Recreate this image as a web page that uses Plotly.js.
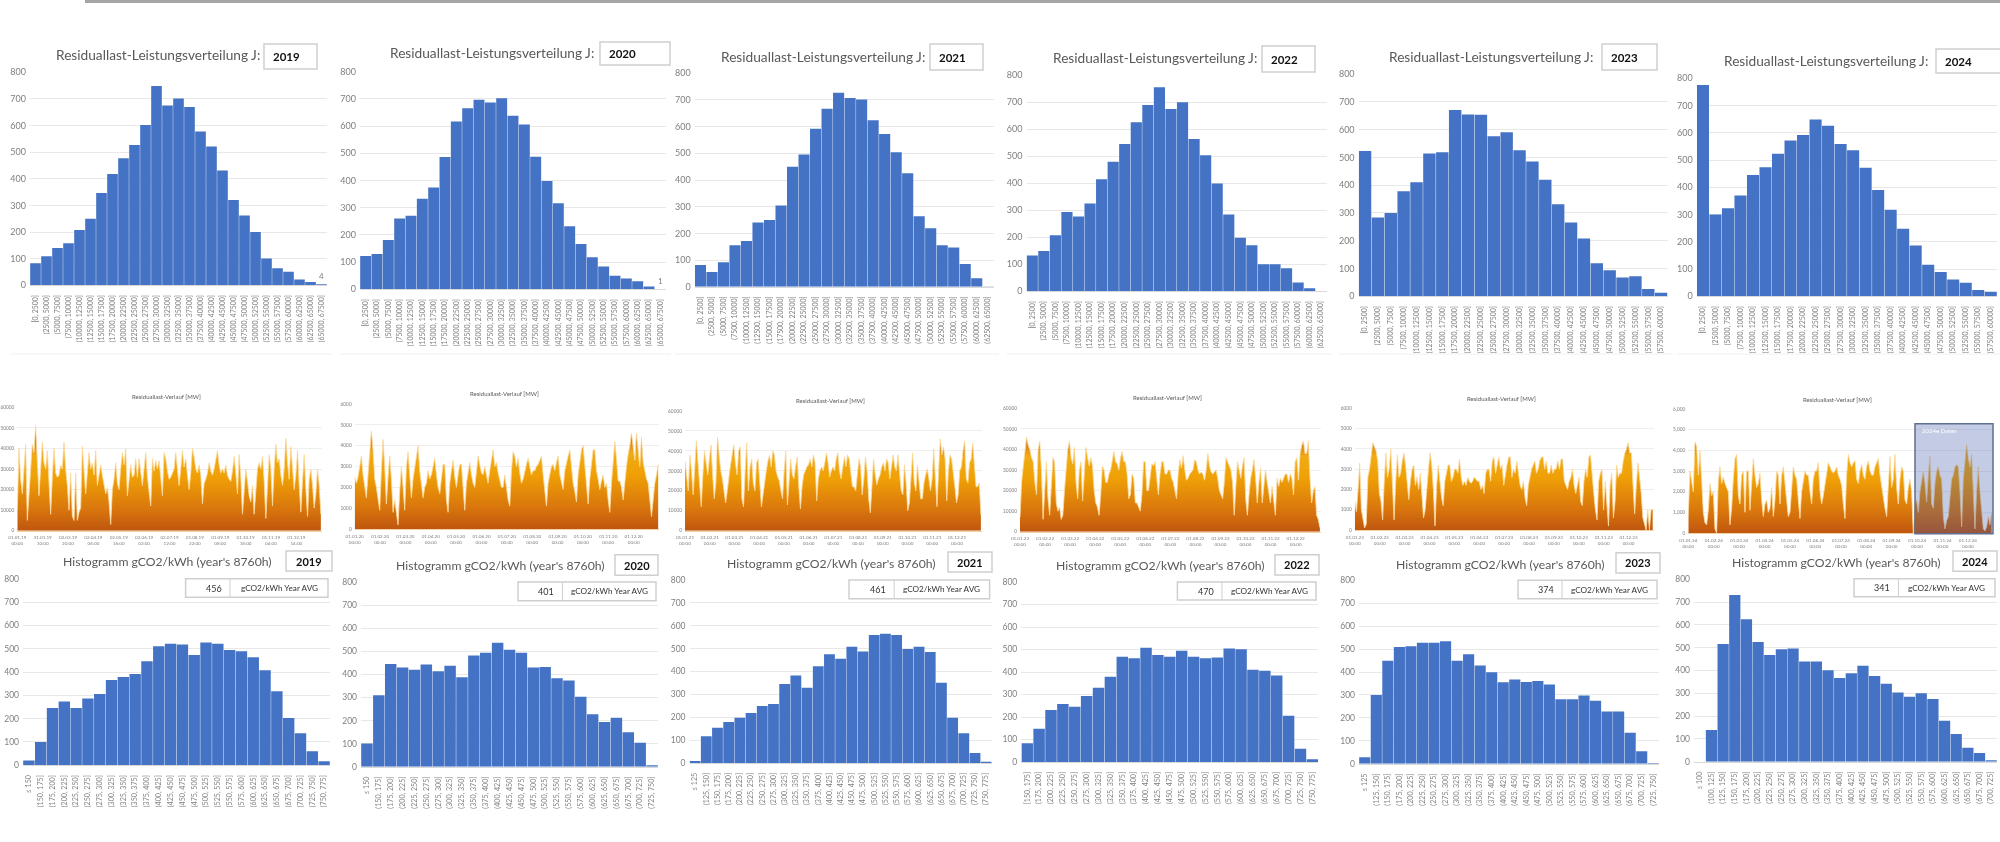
<!DOCTYPE html>
<html><head><meta charset="utf-8">
<script src="https://cdn.plot.ly/plotly-3.0.1.min.js"></script>
<style>html,body{margin:0;padding:0;background:#fff}#c{width:2000px;height:842px;filter:blur(0.45px)}</style>
</head><body><div id="c"></div>
<script>
// ---------- data ----------
const years = [2019, 2020, 2021, 2022, 2023, 2024];

const power2019 = [83,109,140,158,208,250,347,418,477,527,602,749,675,702,670,578,521,431,320,262,200,101,64,51,22,12,4];
const power2020 = [122,130,181,260,270,333,374,486,617,666,697,687,702,638,606,487,398,316,232,167,118,84,50,40,30,10,1];
const power2021 = [81,55,92,155,171,241,250,304,450,496,592,667,727,707,702,624,572,504,425,264,219,155,147,85,32,1];
const power2022 = [132,149,207,293,277,325,414,479,545,625,689,755,674,699,563,503,399,284,198,170,100,100,85,33,11,1];
const power2023 = [523,284,300,378,410,514,518,670,654,653,576,590,526,485,419,331,266,208,119,94,68,72,26,13];
const power2024 = [775,300,323,370,445,474,523,572,592,649,626,559,536,472,390,318,248,186,116,89,62,50,23,17];

const co2_2019 = [21,100,246,274,246,286,306,366,379,391,446,510,521,518,473,526,521,494,489,463,407,317,203,137,60,17];
const co2_2020 = [100,310,445,430,420,443,413,437,387,482,494,537,507,494,430,432,383,373,303,227,194,212,149,104,6];
const co2_2021 = [9,117,154,179,198,219,249,258,345,382,329,423,475,456,508,487,560,565,560,498,508,485,351,198,130,44,6];
const co2_2022 = [83,148,231,258,246,293,330,379,468,461,508,476,468,495,468,461,464,505,501,410,406,384,206,59,12];
const co2_2023 = [28,300,449,509,512,528,528,534,449,477,428,399,355,367,356,361,345,281,281,298,275,228,228,135,54,3];
const co2_2024 = [0,139,516,731,625,525,468,493,496,439,439,401,367,388,421,376,342,303,285,300,275,180,121,61,38,6];

const co2Avg = [456, 401, 461, 470, 374, 341];
const co2FirstBin = ["≤ 150","≤ 150","≤ 125","[150, 175]","≤ 125","≤ 100"];
const co2BinStart = [150,150,125,175,125,100];

// residual load course, thousand MW, every two days of the year
const load2019 = [10,40,25,18,30,42,5,17,32,42,38,51,34,17,30,43,33,30,39,24,8,26,40,28,26,27,32,30,43,30,22,10,28,7,5,28,5,9,11,41,30,18,28,38,30,33,27,39,22,28,32,27,22,18,21,14,3,20,25,33,23,20,30,38,32,40,17,26,32,26,27,35,26,35,29,22,30,38,26,19,12,35,29,34,30,34,26,17,38,35,29,25,26,28,30,38,28,22,30,39,31,35,27,20,28,40,36,30,28,32,27,13,23,25,28,33,29,27,30,34,39,32,28,30,28,32,27,25,24,29,36,28,18,37,26,8,18,30,24,17,14,22,8,22,30,33,30,36,24,6,25,37,30,12,30,42,33,35,27,22,30,45,33,25,41,30,20,27,39,22,9,24,37,20,7,25,30,22,11,18,30,22,8];
const load2020 = [25,22,25,31,35,26,20,15,26,36,47,38,24,20,14,9,28,43,30,12,25,35,24,8,14,8,2,18,30,20,9,30,37,26,15,24,30,36,40,28,22,15,20,22,28,24,26,30,34,26,20,17,25,31,31,14,8,22,28,33,25,20,26,31,31,18,9,22,28,32,26,22,20,28,35,31,27,26,30,26,22,28,34,38,30,32,27,24,20,20,26,20,14,11,28,37,35,30,34,27,22,24,28,31,34,30,26,28,28,30,31,33,35,26,18,11,22,26,30,31,28,32,35,26,22,19,28,32,35,38,28,22,18,13,26,32,38,40,30,22,12,24,30,38,38,28,24,19,23,26,20,22,14,8,22,34,42,34,23,23,20,14,24,30,36,40,46,38,33,46,36,30,44,32,28,24,22,14,6,14,22,26,31];
const load2021 = [35,28,20,38,30,18,32,45,34,22,12,28,40,34,28,36,43,28,16,24,47,38,30,26,20,14,20,28,33,38,43,34,28,40,42,16,12,30,44,20,32,36,24,20,34,36,22,12,18,25,30,35,38,32,40,38,30,27,25,20,16,30,40,13,26,36,28,26,32,37,22,11,22,28,30,32,33,36,32,38,34,15,26,30,32,30,34,39,34,27,30,32,30,36,39,30,26,32,37,32,38,36,28,22,22,20,28,36,32,18,26,37,30,16,9,26,36,28,23,26,28,32,34,30,36,34,26,32,38,32,30,38,30,20,18,33,24,10,14,30,39,24,20,33,26,16,16,24,28,31,26,20,26,41,26,12,30,46,38,42,36,15,30,38,36,27,22,14,18,30,32,40,45,26,24,34,36,44,34,22,22,24,8];
const load2022 = [7,24,32,38,46,42,40,36,34,24,18,40,44,30,6,20,34,16,8,22,36,34,14,10,12,6,8,20,30,40,44,36,33,41,24,16,30,34,15,30,41,36,32,36,32,20,14,12,8,18,32,30,24,24,28,30,34,39,34,33,30,36,39,34,34,28,16,18,28,26,14,14,12,10,18,34,34,20,20,28,33,32,34,26,18,28,34,34,28,28,30,30,26,24,20,16,28,35,31,37,30,25,26,28,29,30,35,34,30,28,29,28,25,30,38,32,29,28,29,30,26,20,18,16,24,36,34,32,30,24,8,22,34,30,26,32,36,16,8,18,26,30,35,26,14,24,31,14,22,30,24,18,14,22,14,8,26,22,26,24,26,28,28,24,28,26,18,34,36,25,38,42,44,38,38,44,26,14,20,22,8,6,2];
const load2023 = [14,9,20,33,10,5,1,3,26,30,36,43,41,39,34,18,14,5,24,38,26,30,40,22,5,24,37,26,28,34,38,32,22,15,24,30,32,22,26,20,28,15,6,10,22,30,38,32,20,2,22,32,24,16,12,24,28,32,32,24,26,30,30,28,35,26,22,24,22,26,24,23,24,26,25,24,24,20,22,18,28,30,30,24,34,36,28,32,36,30,32,22,28,32,36,36,26,30,28,34,28,22,20,24,16,12,22,26,30,32,34,28,30,34,36,36,30,34,28,28,32,28,30,30,34,30,35,35,24,22,20,24,26,30,22,18,22,26,14,12,24,30,26,36,37,26,18,10,5,24,28,30,10,24,12,2,22,28,6,14,32,26,28,28,34,38,40,43,38,38,22,8,22,33,26,18,6,3,0,10,0,10,10];
const load2024 = [9,30,25,20,44,42,28,40,26,10,5,4,11,24,18,20,2,0,25,32,24,27,24,22,20,4,12,26,36,38,18,14,28,30,10,30,30,11,24,36,28,22,24,29,16,8,14,16,10,12,22,8,16,30,28,14,28,32,24,15,8,10,24,32,28,26,16,7,20,26,30,28,28,20,14,26,30,30,34,20,14,18,24,28,34,32,30,29,30,32,28,26,23,14,7,28,38,34,32,34,35,26,24,30,33,28,26,32,35,30,28,28,32,34,36,28,22,18,12,8,24,37,22,26,38,22,14,26,32,30,16,14,22,26,20,0,14,16,10,20,25,30,24,15,28,37,14,12,24,30,32,28,26,8,2,6,8,18,26,28,32,33,32,20,3,26,36,43,36,32,38,16,2,20,32,20,10,2,1,3,8,4,10];

const loadVals = [load2019, load2020, load2021, load2022, load2023, load2024];
const powerVals = [power2019, power2020, power2021, power2022, power2023, power2024];
const co2Vals = [co2_2019, co2_2020, co2_2021, co2_2022, co2_2023, co2_2024];

const monthTicks = {
 2019:["01.01.19<br>00:00","31.01.19<br>10:00","02.03.19<br>20:00","02.04.19<br>06:00","02.05.19<br>16:00","02.06.19<br>02:00","02.07.19<br>12:00","01.08.19<br>22:00","01.09.19<br>08:00","01.10.19<br>18:00","01.11.19<br>04:00","01.12.19<br>14:00"],
 2020:["01.01.20<br>00:00","01.02.20<br>00:00","01.03.20<br>00:00","01.04.20<br>00:00","01.05.20<br>00:00","01.06.20<br>00:00","01.07.20<br>00:00","01.08.20<br>00:00","01.09.20<br>00:00","01.10.20<br>00:00","01.11.20<br>00:00","01.12.20<br>00:00"],
 2021:["01.01.21<br>00:00","01.02.21<br>00:00","01.03.21<br>00:00","01.04.21<br>00:00","01.05.21<br>00:00","01.06.21<br>00:00","01.07.21<br>00:00","01.08.21<br>00:00","01.09.21<br>00:00","01.10.21<br>00:00","01.11.21<br>00:00","01.12.21<br>00:00"],
 2022:["01.01.22<br>00:00","01.02.22<br>00:00","01.03.22<br>00:00","01.04.22<br>00:00","01.05.22<br>00:00","01.06.22<br>00:00","01.07.22<br>00:00","01.08.22<br>00:00","01.09.22<br>00:00","01.10.22<br>00:00","01.11.22<br>00:00","01.12.22<br>00:00"],
 2023:["01.01.23<br>00:00","01.02.23<br>00:00","01.03.23<br>00:00","01.04.23<br>00:00","01.05.23<br>00:00","01.06.23<br>00:00","01.07.23<br>00:00","01.08.23<br>00:00","01.09.23<br>00:00","01.10.23<br>00:00","01.11.23<br>00:00","01.12.23<br>00:00"],
 2024:["01.01.24<br>00:00","01.02.24<br>00:00","01.03.24<br>00:00","01.04.24<br>00:00","01.05.24<br>00:00","01.06.24<br>00:00","01.07.24<br>00:00","01.08.24<br>00:00","01.09.24<br>00:00","01.10.24<br>00:00","01.11.24<br>00:00","01.12.24<br>00:00"]
};
const loadTickText = [
 ["0","10000","20000","30000","40000","50000","60000"],
 ["0","1000","2000","3000","4000","5000","6000"],
 ["0","10000","20000","30000","40000","50000","60000"],
 ["0","10000","20000","30000","40000","50000","60000"],
 ["0","1000","2000","3000","4000","5000","6000"],
 ["0","1,000","2,000","3,000","4,000","5,000","6,000"]
];

// ---------- layout geometry (pixels in the 2000x842 page) ----------
const W = 2000, H = 842;
const row1 = [[30,327,72.3,285.3],[360,666,71.7,289.3],[694.7,994,73.3,286.7],[1026.5,1327,75,291.3],[1358.6,1667.6,74,296.3],[1696.7,1997,78.3,296.3]];
const row1Title = [[158,55],[491.5,53],[822.6,56.7],[1155,57.7],[1491,56],[1826,60]];
const row1Box = [[264,317,44,69],[600,670,42,65],[930,983,44,70],[1262,1315,46,72],[1602,1657,44,70],[1936,2004,49,73]];
const row2 = [[17.3,321.7,407.3,530.7],[354.7,659,404,529],[685,981.7,411,530.7],[1020,1320.7,408.3,531.7],[1354.8,1653.5,408.3,530],[1688.3,1993.3,409,533]];
const row2Title = [[166,396.7],[504,393.7],[830.7,401],[1167,397.7],[1501,398],[1837.7,399]];
const row3 = [[23,330,578.7,765.3],[361,658,582,766.7],[689.5,991.8,580,763],[1021.3,1318.3,582,762],[1359,1659,580.3,763.7],[1694,1997,579.3,761.7]];
const row3Title = [[167.6,561.7],[500.8,565.7],[831,563],[1160.5,565.7],[1500,564],[1836,562.7]];
const row3Box = [[286,332,551,571],[615,658,554.7,575.3],[948,992,552,572],[1275,1319,554.7,575],[1616,1660,552.7,573],[1953,1997,551,571.3]];
const row3Table = [[185.6,230,328,578.7,597.3],[518,562.4,656,582,600.7],[849,894.2,989.6,580,598.7],[1177.4,1222,1316,582,600],[1518,1562,1657,580.3,598.7],[1854,1898.4,1995,578.7,596.7]];

const FONT = 'Lato, "Open Sans", sans-serif';
const GREY = '#595959', TICK = '#7f7f7f', GRID = '#e8e8e8', BLUE = '#4472c4';

const px = v => v / W, py = v => 1 - v / H;
const data = [];
const layout = {
  width: W, height: H, margin: {l:0,r:0,t:0,b:0}, paper_bgcolor:'#fff', plot_bgcolor:'rgba(0,0,0,0)',
  showlegend:false, bargap:0.035, font:{family:FONT, color:GREY}, shapes:[], annotations:[]
};
let axisNo = 0;

function addAxes(g, xCfg, yCfg){
  axisNo++;
  const xn = axisNo === 1 ? 'xaxis' : 'xaxis'+axisNo, yn = axisNo === 1 ? 'yaxis' : 'yaxis'+axisNo;
  const xr = axisNo === 1 ? 'x' : 'x'+axisNo, yr = axisNo === 1 ? 'y' : 'y'+axisNo;
  layout[xn] = Object.assign({domain:[px(g[0]),px(g[1])], anchor:yr, showgrid:false, zeroline:false, showline:true, linecolor:'#d9d9d9', linewidth:1, fixedrange:true}, xCfg);
  layout[yn] = Object.assign({domain:[py(g[3]),py(g[2])], anchor:xr, showgrid:true, gridcolor:GRID, gridwidth:1, zeroline:false, showline:false, fixedrange:true}, yCfg);
  return [xr,yr];
}
function rect(x0,x1,y0,y1,line,fill,w){
  layout.shapes.push({type:'rect',xref:'paper',yref:'paper',x0:px(x0),x1:px(x1),y0:py(y1),y1:py(y0),line:{color:line,width:w===undefined?1.5:w},fillcolor:fill||'rgba(0,0,0,0)'});
}
function hline(x0,x1,y,c){ layout.shapes.push({type:'line',xref:'paper',yref:'paper',x0:px(x0),x1:px(x1),y0:py(y),y1:py(y),line:{color:c,width:1}}); }
function vline(x,y0,y1,c){ layout.shapes.push({type:'line',xref:'paper',yref:'paper',x0:px(x),x1:px(x),y0:py(y0),y1:py(y1),line:{color:c,width:1}}); }
function note(x,y,text,size,color,anchor,bold){
  layout.annotations.push({xref:'paper',yref:'paper',x:px(x),y:py(y),text:bold?'<b>'+text+'</b>':text,showarrow:false,xanchor:anchor||'center',yanchor:'middle',font:{family:FONT,size:size,color:color||GREY}});
}
function powerBins(n){
  const out = ['[0, 2500]'];
  for(let i=1;i<n;i++) out.push('('+(i*2500)+', '+((i+1)*2500)+']');
  return out;
}
function co2Bins(i,n){
  const out = [co2FirstBin[i]];
  for(let k=0;k<n-1;k++) out.push('('+(co2BinStart[i]+k*25)+', '+(co2BinStart[i]+(k+1)*25)+']');
  return out;
}
function barChart(g, cats, vals, tickSize, xSize, standoff){
  const [xr,yr] = addAxes(g,
    {type:'category', tickmode:'linear', tick0:0, dtick:1, range:[-0.5,cats.length-0.5], tickangle:-90, tickfont:{size:xSize,color:TICK,family:FONT}, ticklabelstandoff:standoff},
    {range:[0,800], dtick:100, tick0:0, tickfont:{size:tickSize,color:TICK,family:FONT}, ticklabelstandoff:3});
  data.push({type:'bar',x:cats,y:vals,xaxis:xr,yaxis:yr,marker:{color:BLUE,line:{width:0}},hoverinfo:'skip'});
  return [xr,yr];
}

// top band of the page
rect(85,2000,0,3,'#a6a6a6','#a6a6a6',0);

years.forEach((yr,i)=>{
  // row 1
  const cats = powerBins(powerVals[i].length);
  const [xr,yax] = barChart(row1[i], cats, powerVals[i], 9, 6.9, 6);
  note(row1Title[i][0], row1Title[i][1], 'Residuallast-Leistungsverteilung J:', 13.7, GREY);
  const b = row1Box[i];
  rect(b[0],b[1],b[2],b[3],'#cfcfcf','#ffffff');
  note(b[0]+7, (b[2]+b[3])/2, String(yr), 11.5, '#111', 'left', true);
  hline(row1[i][0]-20, row1[i][1]+5, 354, '#f0f0f0');

  // last bar's value label, 2019 and 2020 only
  if(i<2){
    layout.annotations.push({xref:xr,yref:yax,x:cats[cats.length-1],y:powerVals[i][cats.length-1],text:String(powerVals[i][cats.length-1]),showarrow:false,yanchor:'bottom',yshift:1,font:{size:8,family:FONT,color:TICK}});
  }

  // row 2
  const vals = loadVals[i];
  const end = i===5?366:365;
  const [x2,y2] = addAxes(row2[i],
    {range:[0,end], tickmode:'array', tickvals:monthTicks[yr].map((_,k)=>k*end/12), ticktext:monthTicks[yr], tickangle:0, tickfont:{size:4.6,color:TICK,family:FONT}, linecolor:'#f2d0a0', ticklabelstandoff:2},
    {range:[0,60], tickmode:'array', tickvals:[0,10,20,30,40,50,60], ticktext:loadTickText[i], tickfont:{size:4.8,color:TICK,family:FONT}, gridcolor:'#eeeeee', ticklabelstandoff:2});
  data.push({type:'scatter',mode:'lines',x:vals.map((_,k)=>k*2),y:vals,xaxis:x2,yaxis:y2,fill:'tozeroy',hoverinfo:'skip',
    line:{color:'rgba(252,218,155,0.8)',width:1},
    fillgradient:{type:'vertical',start:0,stop:52,colorscale:[[0,'#bf560f'],[0.2,'#d9760d'],[0.5,'#efa006'],[0.7,'#f0ab14'],[0.82,'#d9801c'],[1,'#a33a1a']]}});
  note(row2Title[i][0], row2Title[i][1], 'Residuallast-Verlauf [MW]', 6, GREY);

  // row 3
  const cc = co2Bins(i, co2Vals[i].length);
  barChart(row3[i], cc, co2Vals[i], 8.5, 7.1, 6);
  note(row3Title[i][0], row3Title[i][1], "Histogramm gCO2/kWh (year's 8760h)", 12.2, GREY);
  const bb = row3Box[i];
  rect(bb[0],bb[1],bb[2],bb[3],'#cfcfcf','#ffffff');
  note((bb[0]+bb[1])/2, (bb[2]+bb[3])/2, String(yr), 11, '#111', 'center', true);
  const t = row3Table[i];
  rect(t[0],t[2],t[3],t[4],'#cfcfcf','#ffffff');
  vline(t[1],t[3],t[4],'#cfcfcf');
  note(t[1]-6,(t[3]+t[4])/2,String(co2Avg[i]),9,'#333','right');
  note((t[1]+t[2])/2,(t[3]+t[4])/2,'gCO2/kWh Year AVG',8.2,'#333');
});

// highlight on the 2024 course
rect(1915,1993,423.7,533.7,'#5f6f8f','rgba(60,85,170,0.30)',1.5);
note(1939,430,'2024e Daten',6,'#ffffff');

Plotly.newPlot('c', data, layout, {displayModeBar:false, staticPlot:true});
</script></body></html>
